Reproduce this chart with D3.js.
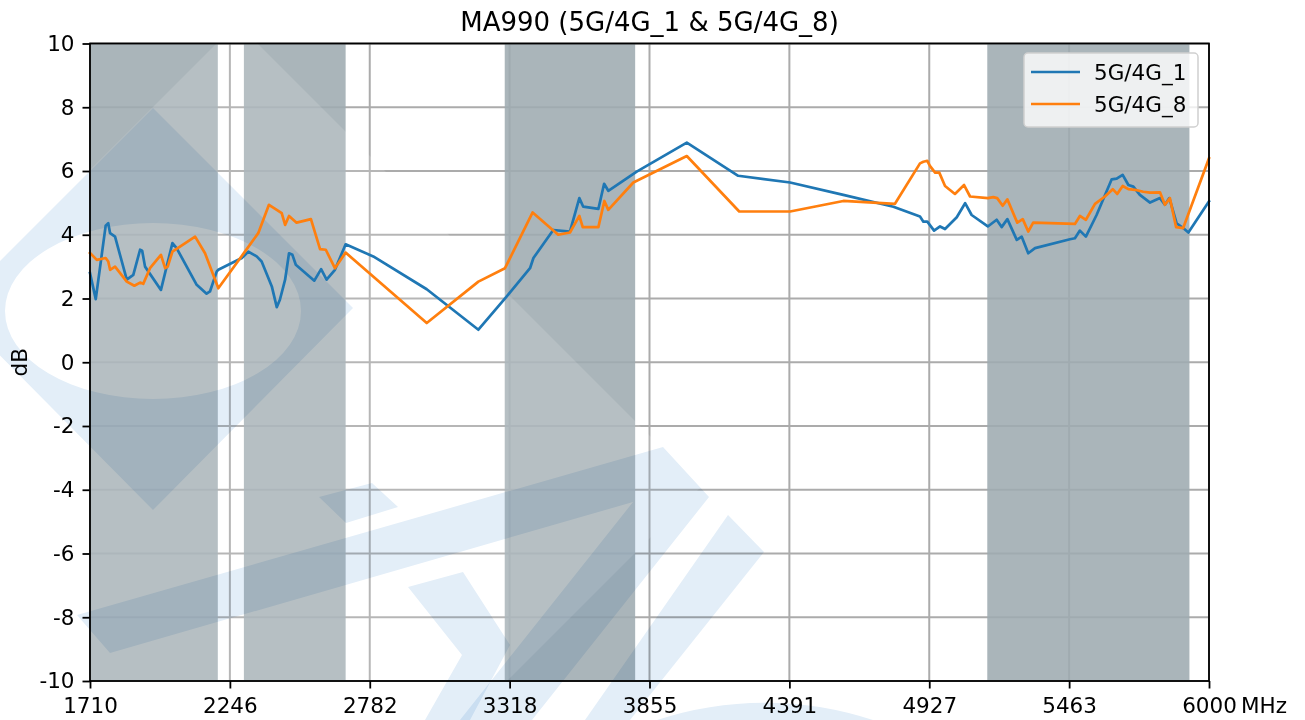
<!DOCTYPE html>
<html><head><meta charset="utf-8">
<script src="https://cdn.jsdelivr.net/npm/d3@7/dist/d3.min.js"></script>
<style>
body{margin:0;background:#fff}
svg text{font-family:"DejaVu Sans",sans-serif;fill:#000}
</style>
</head><body>
<svg id="chart" width="1305" height="720"></svg>
<script>
// ---------------- data ----------------
const chartTitle = "MA990 (5G/4G_1 & 5G/4G_8)";
const seriesNames = ["5G/4G_1", "5G/4G_8"];
const seriesColors = ["#1f77b4", "#ff7f0e"];

const freq1 = [1710,1732,1770,1780,1787,1806,1851,1876,1902,1910,1921,1982,2026,2042,2119,2157,2170,2196,2202,
  2292,2317,2349,2368,2407,2426,2438,2458,2473,2486,2499,2570,2596,2617,2649,2690,2796,3001,3199,3307,3397,3410,
  3486,3550,3586,3601,3659,3681,3697,3806,3998,4195,4394,4598,4790,4892,4905,4920,4946,4969,4988,5033,5065,5090,
  5152,5186,5205,5227,5263,5282,5307,5333,5467,5486,5505,5528,5569,5627,5646,5669,5691,5710,5735,5774,5812,5831,
  5848,5876,5901,5921,6000];
const gain1 = [2.80,1.98,4.28,4.36,4.05,3.94,2.59,2.74,3.53,3.50,3.00,2.27,3.74,3.58,2.43,2.15,2.22,2.85,2.90,
  3.27,3.47,3.32,3.16,2.38,1.73,1.96,2.59,3.42,3.37,3.06,2.56,2.92,2.59,2.90,3.70,3.32,2.29,1.02,2.06,2.95,3.27,
  4.15,4.10,5.15,4.88,4.81,5.60,5.38,5.98,6.89,5.85,5.64,5.25,4.88,4.57,4.41,4.41,4.13,4.26,4.18,4.55,4.99,4.62,
  4.26,4.47,4.24,4.49,3.84,3.94,3.42,3.58,3.86,3.89,4.13,3.94,4.62,5.74,5.76,5.88,5.56,5.51,5.25,5.01,5.15,4.94,
  5.15,4.36,4.21,4.07,5.05];

const freq8 = [1710,1736,1770,1780,1787,1806,1851,1880,1902,1914,1940,1982,1998,2008,2026,2113,2151,2202,
  2304,2355,2396,2426,2445,2458,2473,2502,2557,2592,2614,2649,2690,3001,3199,3301,3407,3505,3550,3586,3599,
  3659,3682,3697,3793,3998,4199,4394,4598,4796,4892,4905,4920,4930,4950,4966,4988,5026,5061,5084,5152,5173,
  5188,5209,5227,5265,5286,5307,5326,5486,5505,5528,5563,5601,5631,5648,5669,5691,5716,5748,5774,5812,5831,
  5850,5874,5901,6000];
const gain8 = [3.43,3.21,3.27,3.16,2.90,3.00,2.53,2.40,2.50,2.46,2.95,3.37,2.95,3.00,3.47,3.94,3.42,2.32,
  3.47,4.05,4.94,4.78,4.68,4.31,4.59,4.38,4.49,3.55,3.53,2.95,3.44,1.23,2.53,2.95,4.70,4.00,4.07,4.59,4.24,
  4.24,5.06,4.78,5.64,6.47,4.73,4.73,5.06,4.97,6.24,6.29,6.32,6.16,5.95,5.95,5.53,5.28,5.56,5.20,5.15,5.18,
  5.15,4.91,5.11,4.38,4.49,4.10,4.38,4.34,4.59,4.47,4.97,5.20,5.43,5.28,5.53,5.43,5.41,5.35,5.32,5.33,4.94,
  5.15,4.24,4.21,6.40];

const bandStarts = [1710, 2300, 3300, 5150];
const bandEnds   = [2200, 2690, 3800, 5925];

const xTickValues = [1710, 2246.25, 2782.5, 3318.75, 3855, 4391.25, 4927.5, 5463.75, 6000];
const xTickLabels = ["1710","2246","2782","3318","3855","4391","4927","5463","6000"];
const yTickValues = [-10,-8,-6,-4,-2,0,2,4,6,8,10];
const yLabel = "dB";
const xUnit = "MHz";

// ---------------- layout ----------------
const W = 1305, H = 720;
const L = 90, R = 1209, T = 43.5, B = 681;
const svg = d3.select("#chart");
const x = d3.scaleLinear().domain([1710, 6000]).range([L, R]);
const y = d3.scaleLinear().domain([-10, 10]).range([B, T]);

svg.append("rect").attr("width", W).attr("height", H).attr("fill", "#fff");

// grid
const grid = svg.append("g");
grid.selectAll("line.gx").data(xTickValues).join("line")
  .attr("x1", d => x(d)).attr("x2", d => x(d)).attr("y1", T).attr("y2", B)
  .attr("stroke", "#ababab").attr("stroke-width", 2);
grid.selectAll("line.gy").data(yTickValues).join("line")
  .attr("y1", d => y(d)).attr("y2", d => y(d)).attr("x1", L).attr("x2", R)
  .attr("stroke", "#ababab").attr("stroke-width", 2);

// shaded bands
svg.append("g").selectAll("rect").data(d3.range(bandStarts.length)).join("rect")
  .attr("x", i => x(bandStarts[i])).attr("width", i => x(bandEnds[i]) - x(bandStarts[i]))
  .attr("y", T).attr("height", B - T)
  .attr("fill", "rgb(158,171,176)").attr("fill-opacity", 0.88);

// ---------------- background watermark (decoration) ----------------
const wm = svg.append("g").attr("pointer-events", "none");
wm.append("path").attr("d", "M237,23 L701,487 L237,951 L-227,487 Z")
  .attr("fill", "#fff").attr("fill-opacity", 0.14);
const blueFill = "rgb(227,238,248)";
function blue(d, rule) {
  wm.append("path").attr("d", d).attr("fill", blueFill).attr("fill-rule", rule || "nonzero")
    .style("mix-blend-mode", "multiply");
}
blue("M153,108 L353,308 L153,510 L-47,308 Z M5,311 a148,88 0 1,0 296,0 a148,88 0 1,0 -296,0 Z", "evenodd");
blue("M77,615 L663,447 L709,497 L532,720 L460,720 L633,502 L110,653 Z");
blue("M728,515 L764,552 L630,720 L585,720 Z");
blue("M408,587 L463,572 L510,645 L470,720 L425,720 L462,655 Z");
blue("M319,497 L372,483 L398,507 L346,523 Z");
blue("M657,720 A345,345 0 0,1 873,720 Z");

// ---------------- series ----------------
const line = d3.line().x(d => x(d[0])).y(d => y(d[1]));
const series = [d3.zip(freq1, gain1), d3.zip(freq8, gain8)];
svg.append("g").selectAll("path").data(series).join("path")
  .attr("d", line).attr("fill", "none")
  .attr("stroke", (d, i) => seriesColors[i]).attr("stroke-width", 2.7)
  .attr("stroke-linejoin", "round").attr("stroke-linecap", "square");

// ---------------- axes ----------------
const ax = svg.append("g");
ax.append("rect").attr("x", L).attr("y", T).attr("width", R - L).attr("height", B - T)
  .attr("fill", "none").attr("stroke", "#000").attr("stroke-width", 1.8);

const xAxis = d3.axisBottom(x).tickValues(xTickValues).tickSize(7.5).tickPadding(9)
  .tickFormat((d, i) => xTickLabels[i]);
const gx = svg.append("g").attr("transform", `translate(0,${B})`).call(xAxis);
gx.select(".domain").remove();
gx.selectAll(".tick line").attr("stroke", "#000").attr("stroke-width", 1.8);
gx.selectAll(".tick text").attr("font-size", 21.5).attr("fill", "#000")
  .attr("font-family", "DejaVu Sans");

const yAxis = d3.axisLeft(y).tickValues(yTickValues).tickSize(7.5).tickPadding(8)
  .tickFormat(d3.format("d"));
const gy = svg.append("g").attr("transform", `translate(${L},0)`).call(yAxis);
gy.select(".domain").remove();
gy.selectAll(".tick line").attr("stroke", "#000").attr("stroke-width", 1.8);
gy.selectAll(".tick text").attr("font-size", 21.5).attr("fill", "#000")
  .attr("font-family", "DejaVu Sans").text(d => (d < 0 ? "-" + Math.abs(d) : d));

svg.append("text").attr("x", 1241).attr("y", 713).attr("font-size", 21.5).text(xUnit);

svg.append("text").attr("transform", `translate(27,${y(0)}) rotate(-90)`)
  .attr("text-anchor", "middle").attr("font-size", 21.5).text(yLabel);

svg.append("text").attr("x", (L + R) / 2).attr("y", 31).attr("text-anchor", "middle")
  .attr("font-size", 26).text(chartTitle);

// ---------------- legend ----------------
const lg = svg.append("g").attr("transform", "translate(1024,53)");
lg.append("rect").attr("width", 174).attr("height", 74).attr("rx", 4)
  .attr("fill", "#fff").attr("fill-opacity", 0.8).attr("stroke", "#d0d0d0").attr("stroke-width", 1.5);
seriesNames.forEach((name, i) => {
  const yy = 19 + i * 32;
  lg.append("line").attr("x1", 7).attr("x2", 56).attr("y1", yy).attr("y2", yy)
    .attr("stroke", seriesColors[i]).attr("stroke-width", 2.7);
  lg.append("text").attr("x", 70).attr("y", yy + 8).attr("font-size", 21.5).text(name);
});
</script>
</body></html>
